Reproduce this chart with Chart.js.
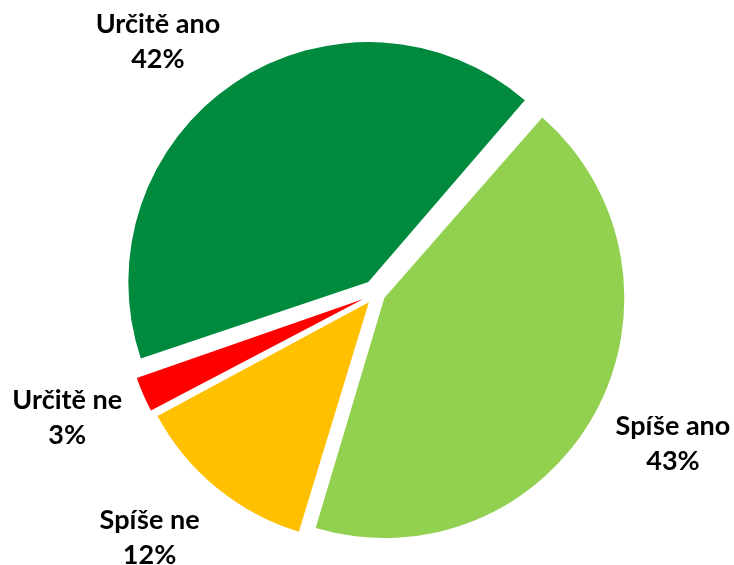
<!DOCTYPE html>
<html>
<head>
<meta charset="utf-8">
<script src="https://cdn.jsdelivr.net/npm/chart.js@4.4.0/dist/chart.umd.min.js"></script>
<style>
  html, body { margin: 0; padding: 0; background: #fff; }
</style>
</head>
<body>
<canvas id="pieChart" width="734" height="565"></canvas>
<script>
const categories = ['Určitě ano', 'Spíše ano', 'Spíše ne', 'Určitě ne'];
const values = [41.6, 43.3, 12.5, 2.6];
const percentLabels = ['42%', '43%', '12%', '3%'];
const colors = ['#008A3E', '#92D050', '#FFC000', '#FF0000'];
const explode = [55, 38, 45, 55];

// keep exploded slices at the same visible radius
const radiusFix = {
  id: 'radiusFix',
  afterDatasetUpdate(chart, args) {
    args.meta.data.forEach((arc) => {
      const off = (arc.options.offset || 0) / 4;
      const fix = 1 - Math.sin(Math.min(Math.PI, arc.circumference));
      arc.outerRadius -= off * fix;
    });
  }
};

const outerLabels = {
  id: 'outerLabels',
  afterDatasetsDraw(chart, args, opts) {
    const ctx = chart.ctx;
    const meta = chart.getDatasetMeta(0);
    ctx.save();
    ctx.font = opts.font;
    ctx.fillStyle = '#000';
    ctx.textAlign = 'center';
    ctx.textBaseline = 'middle';
    meta.data.forEach((arc, i) => {
      const mid = (arc.startAngle + arc.endAngle) / 2 + opts.nudge[i] * Math.PI / 180;
      const cx = chart.chartArea.left + chart.chartArea.width / 2;
      const cy = chart.chartArea.top + chart.chartArea.height / 2;
      const lx = cx + Math.cos(mid) * opts.distance;
      const ly = cy + Math.sin(mid) * opts.distance;
      ctx.fillText(categories[i], lx, ly - opts.lineHeight / 2);
      ctx.fillText(percentLabels[i], lx, ly + opts.lineHeight / 2);
    });
    ctx.restore();
  }
};

new Chart(document.getElementById('pieChart'), {
  type: 'pie',
  data: {
    labels: categories,
    datasets: [{
      data: values,
      backgroundColor: colors,
      borderWidth: 0,
      offset: explode,
    }]
  },
  options: {
    responsive: false,
    animation: false,
    rotation: -108.8,
    radius: 240,
    layout: { padding: { left: 18, right: 0, top: 22, bottom: 0 } },
    plugins: {
      legend: { display: false },
      tooltip: { enabled: false },
      outerLabels: {
        font: 'bold 27px Lato',
        lineHeight: 35,
        distance: 333,
        nudge: [-7, -2, 3.5, 1.5]
      }
    }
  },
  plugins: [radiusFix, outerLabels]
});
</script>
</body>
</html>
